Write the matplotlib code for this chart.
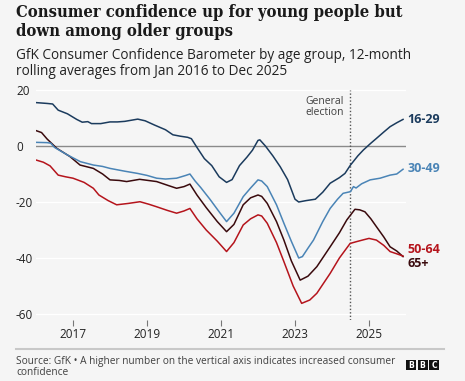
import matplotlib.pyplot as plt
from matplotlib.patches import Rectangle
from matplotlib.lines import Line2D

# Datos (anio decimal, valor)
x_1629 = [2016.0, 2016.3, 2016.45, 2016.6, 2016.85, 2017.1, 2017.25, 2017.4, 2017.5, 2017.75,
          2018.0, 2018.2, 2018.4, 2018.75, 2018.95, 2019.2, 2019.5, 2019.7, 2019.9, 2020.1,
          2020.2, 2020.35, 2020.55, 2020.75, 2020.95, 2021.15, 2021.3, 2021.5, 2021.7, 2021.85,
          2022.0, 2022.05, 2022.2, 2022.4, 2022.6, 2022.8, 2023.0, 2023.1, 2023.3, 2023.55,
          2023.75, 2023.95, 2024.2, 2024.35, 2024.5, 2024.7, 2024.85, 2025.05, 2025.2, 2025.4,
          2025.57, 2025.75, 2025.92]
y_1629 = [15.5, 15.2, 15.0, 12.8, 11.5, 9.5, 8.5, 8.7, 8.0, 8.0,
          8.6, 8.6, 8.8, 9.6, 9.0, 7.5, 5.8, 4.0, 3.5, 3.1,
          2.6, -0.5, -4.5, -7.0, -11.0, -13.0, -12.0, -7.0, -4.0, -1.5,
          2.0, 2.2, 0.0, -3.5, -7.4, -12.0, -19.0, -20.0, -19.5, -19.0,
          -16.5, -13.3, -11.3, -9.8, -6.8, -3.5, -1.4, 1.0, 2.7, 5.0,
          6.9, 8.3, 9.5]

x_3049 = [2016.0, 2016.3, 2016.4, 2016.5, 2016.85, 2017.2, 2017.55, 2017.8, 2018.0, 2018.4,
          2018.75, 2019.0, 2019.26, 2019.5, 2019.8, 2020.05, 2020.16, 2020.3, 2020.45, 2020.7,
          2020.95, 2021.15, 2021.35, 2021.6, 2021.8, 2022.0, 2022.1, 2022.25, 2022.5, 2022.7,
          2022.9, 2023.1, 2023.2, 2023.35, 2023.5, 2023.75, 2023.95, 2024.15, 2024.3, 2024.5,
          2024.58, 2024.65, 2024.8, 2025.03, 2025.3, 2025.57, 2025.75, 2025.92]
y_3049 = [1.3, 1.2, 1.0, -0.5, -3.2, -5.6, -6.8, -7.3, -8.0, -9.0,
          -9.8, -10.5, -11.5, -11.8, -11.5, -10.5, -10.0, -12.5, -14.8, -19.0,
          -23.5, -27.0, -24.0, -18.1, -15.0, -12.1, -12.5, -14.5, -21.0, -27.6,
          -34.0, -40.0, -39.5, -36.5, -33.6, -27.0, -22.3, -19.0, -16.9, -16.3,
          -14.5, -15.0, -13.5, -12.1, -11.5, -10.4, -10.0, -8.3]

x_5064 = [2016.0, 2016.2, 2016.38, 2016.6, 2016.8, 2017.0, 2017.3, 2017.55, 2017.7, 2017.95,
          2018.18, 2018.5, 2018.81, 2019.05, 2019.26, 2019.55, 2019.8, 2020.0, 2020.16, 2020.35,
          2020.6, 2020.9, 2021.15, 2021.35, 2021.6, 2021.8, 2022.0, 2022.1, 2022.25, 2022.5,
          2022.7, 2022.95, 2023.18, 2023.4, 2023.59, 2023.95, 2024.2, 2024.49, 2024.65, 2024.85,
          2025.0, 2025.2, 2025.4, 2025.57, 2025.75, 2025.92]
y_5064 = [-5.0, -5.8, -7.1, -10.4, -11.0, -11.5, -13.0, -15.1, -17.5, -19.5,
          -21.0, -20.5, -19.9, -20.8, -21.7, -23.0, -24.0, -23.2, -22.3, -26.0,
          -30.0, -34.0, -37.7, -34.5, -28.2, -26.0, -24.6, -25.0, -27.6, -34.5,
          -41.3, -50.0, -56.2, -55.0, -52.6, -45.5, -40.0, -34.8, -34.2, -33.5,
          -33.0, -33.6, -35.5, -37.7, -38.5, -39.3]

x_65 = [2016.0, 2016.15, 2016.3, 2016.56, 2016.92, 2017.19, 2017.55, 2017.8, 2018.0, 2018.25,
        2018.45, 2018.8, 2019.26, 2019.55, 2019.8, 2020.0, 2020.16, 2020.35, 2020.6, 2020.9,
        2021.15, 2021.35, 2021.6, 2021.8, 2022.0, 2022.1, 2022.25, 2022.5, 2022.7, 2022.9,
        2023.14, 2023.35, 2023.59, 2023.95, 2024.2, 2024.4, 2024.62, 2024.75, 2024.89, 2025.05,
        2025.2, 2025.4, 2025.57, 2025.75, 2025.92]
y_65 = [5.5, 4.8, 2.5, -0.8, -3.8, -6.8, -8.0, -10.0, -12.1, -12.3,
        -12.7, -11.9, -12.7, -14.0, -15.1, -14.5, -13.6, -17.5, -22.0, -27.0,
        -30.6, -28.0, -21.0, -18.5, -17.5, -18.0, -20.5, -27.0, -33.6, -41.0,
        -47.9, -46.5, -43.1, -36.0, -31.0, -26.4, -22.6, -22.8, -23.5, -26.0,
        -28.8, -32.5, -36.0, -37.5, -39.5]

series = [
    ('16-29', x_1629, y_1629, '#1b3b5d', 9.6),
    ('30-49', x_3049, y_3049, '#4a84b6', -8.2),
    ('50-64', x_5064, y_5064, '#b5141c', -36.8),
    ('65+', x_65, y_65, '#3a0a0d', -41.8),
]

yticks = [20, 0, -20, -40, -60]
xticks = [2017, 2019, 2021, 2023, 2025]
election = 2024.5

bg = '#f5f5f5'
fig = plt.figure(figsize=(4.65, 3.81), dpi=100, facecolor=bg)
ax = fig.add_axes([36 / 465, 1 - 319.6 / 381, 370 / 465, (319.6 - 87.2) / 381])
ax.set_facecolor(bg)

ax.set_xlim(2016.0, 2026.0)
ax.set_ylim(-62, 21)

for yv in yticks:
    if yv != 0:
        ax.axhline(yv, color='white', lw=1.0, zorder=0)
ax.axhline(0, color='#8a8a8a', lw=1.0, zorder=1)

for name, xs, ys, col, ly in series[::-1]:
    ax.plot(xs, ys, color=col, lw=1.1, zorder=3)

for name, xs, ys, col, ly in series:
    ax.text(2026.03, ly, name, color=col, fontsize=9, fontweight='bold',
            family='Open Sans', va='center', ha='left', clip_on=False)

ax.axvline(election, ymin=0.0, ymax=0.988, color='#555555', lw=1.0, ls=(0, (1, 1.5)), zorder=2)
ax.text(election - 0.18, 18.0, 'General\nelection', fontsize=7.5, family='Open Sans',
        color='#404040', ha='right', va='top', linespacing=1.1)

for s in ax.spines.values():
    s.set_visible(False)

ax.set_yticks(yticks)
ax.set_yticklabels([str(v) for v in yticks], family='Open Sans', fontsize=8.5, color='#222222')
ax.tick_params(axis='y', length=0, pad=14.4)
for lab in ax.get_yticklabels():
    lab.set_horizontalalignment('left')

ax.set_xticks(xticks)
ax.set_xticklabels([str(v) for v in xticks], family='Open Sans', fontsize=8.5, color='#222222')
ax.tick_params(axis='x', length=4, width=0.8, color='#777777', direction='out', pad=2)

# Titulos
fig.text(16 / 465, 1 - 4 / 381, 'Consumer confidence up for young people but\ndown among older groups',
         family='DejaVu Serif', fontstretch='condensed', fontweight='bold', fontsize=11.9,
         color='#1a1a1a', ha='left', va='top', linespacing=1.15)
fig.text(16 / 465, 1 - 48 / 381, 'GfK Consumer Confidence Barometer by age group, 12-month\nrolling averages from Jan 2016 to Dec 2025',
         family='Open Sans', fontsize=9.8, color='#222222', ha='left', va='top', linespacing=1.05)

# Pie
fig.add_artist(Line2D([16 / 465, 444 / 465], [1 - 349 / 381, 1 - 349 / 381],
                      color='#c8c8c8', lw=1.5))
fig.text(16 / 465, 1 - 356 / 381, 'Source: GfK \u2022 A higher number on the vertical axis indicates increased consumer\nconfidence',
         family='Open Sans', fontsize=7.3, color='#404040', ha='left', va='top', linespacing=1.0)

for i, letter in enumerate('BBC'):
    x0 = 406 + i * 11.5
    fig.add_artist(Rectangle((x0 / 465, 1 - 370 / 381), 10 / 465, 10 / 381,
                             facecolor='#111111', edgecolor='none'))
    fig.text((x0 + 5) / 465, 1 - 365 / 381, letter, color='white', fontsize=5.5,
             fontweight='bold', family='DejaVu Sans', ha='center', va='center')

fig.savefig('out.png', dpi=100, facecolor=bg)
